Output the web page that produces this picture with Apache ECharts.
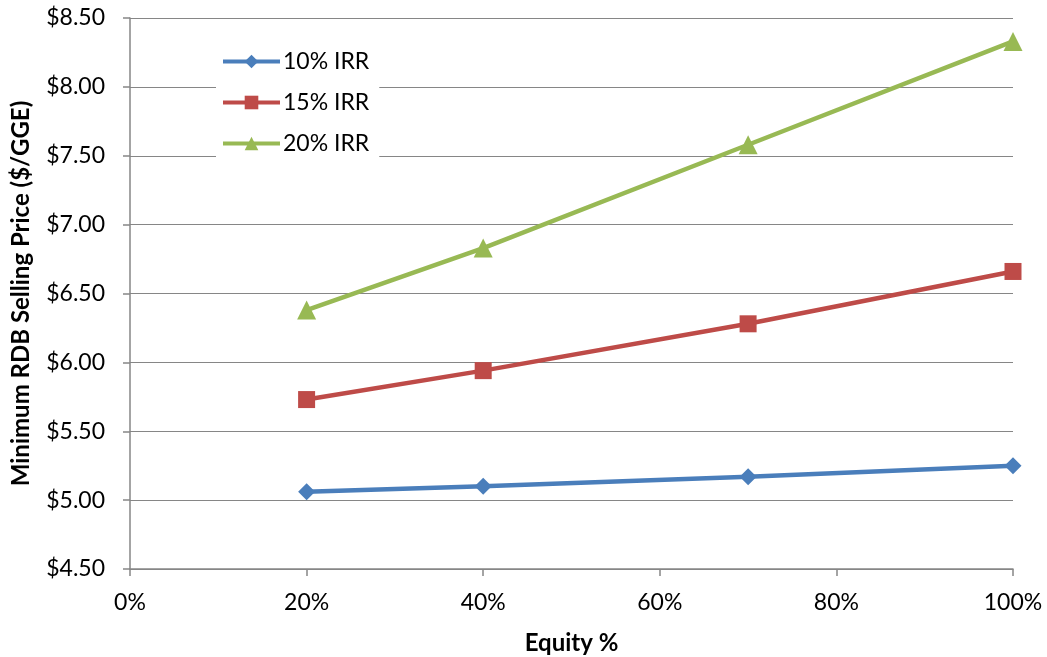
<!DOCTYPE html>
<html>
<head>
<meta charset="utf-8">
<script src="https://cdn.jsdelivr.net/npm/echarts@6/dist/echarts.min.js"></script>
<style>
html,body{margin:0;padding:0;background:#fff;}
#c{width:1047px;height:657px;}
</style>
</head>
<body>
<div id="c"></div>
<script>
const equity = [20, 40, 70, 100];
const irr10 = [5.06, 5.10, 5.17, 5.25];
const irr15 = [5.73, 5.94, 6.28, 6.66];
const irr20 = [6.38, 6.83, 7.58, 8.33];
const seriesNames = ['10% IRR', '15% IRR', '20% IRR'];

const FONT = 'Lato, "Open Sans", sans-serif';
const chart = echarts.init(document.getElementById('c'));
function pts(vals){ return equity.map((x,i)=>[x, vals[i]]); }
const axisGray = '#868686';
chart.setOption({
  animation: false,
  backgroundColor: '#fff',
  textStyle: {fontFamily: FONT},
  grid: {left: 130, right: 34, top: 18, bottom: 88, containLabel: false, outerBoundsMode: 'none'},
  legend: {
    orient: 'vertical',
    left: 216, top: 46,
    backgroundColor: '#fff',
    padding: [4, 10, 4, 5],
    itemWidth: 57, itemHeight: 17, itemGap: 18,
    lineStyle: {width: 4},
    textStyle: {fontFamily: FONT, fontSize: 23, color: '#000', padding: [0,0,0,-2]},
    data: seriesNames
  },
  xAxis: {
    type: 'value', min: 0, max: 100, interval: 20,
    name: 'Equity %', nameLocation: 'middle', nameGap: 62,
    nameTextStyle: {fontFamily: FONT, fontSize: 24, fontWeight: 'bold', color: '#000'},
    axisLine: {show: true, lineStyle: {color: axisGray, width: 1.5}},
    axisTick: {show: true, length: 7, lineStyle: {color: axisGray, width: 1.5}},
    axisLabel: {formatter: '{value}%', fontSize: 23, color: '#000', margin: 22, fontFamily: FONT},
    splitLine: {show: false}
  },
  yAxis: {
    type: 'value', min: 4.5, max: 8.5, interval: 0.5,
    name: 'Minimum RDB Selling Price ($/GGE)', nameLocation: 'middle', nameGap: 97,
    nameTextStyle: {fontFamily: FONT, fontSize: 24, fontWeight: 'bold', color: '#000'},
    axisLine: {show: true, lineStyle: {color: axisGray, width: 1.5}},
    axisTick: {show: true, length: 7, lineStyle: {color: axisGray, width: 1.5}},
    axisLabel: {formatter: v => '$' + v.toFixed(2), fontSize: 23, color: '#000', margin: 25, fontFamily: FONT},
    splitLine: {show: true, lineStyle: {color: axisGray, width: 1.2}}
  },
  series: [
    {name: seriesNames[0], type: 'line', data: pts(irr10), symbol: 'diamond', symbolSize: 17,
     lineStyle: {color: '#4A7EBB', width: 4.5}, itemStyle: {color: '#4A7EBB'}},
    {name: seriesNames[1], type: 'line', data: pts(irr15), symbol: 'rect', symbolSize: 17,
     lineStyle: {color: '#BE4B48', width: 4.5}, itemStyle: {color: '#BE4B48'}},
    {name: seriesNames[2], type: 'line', data: pts(irr20), symbol: 'triangle', symbolSize: 19,
     lineStyle: {color: '#98B954', width: 4.5}, itemStyle: {color: '#98B954'}}
  ]
});
</script>
</body>
</html>
